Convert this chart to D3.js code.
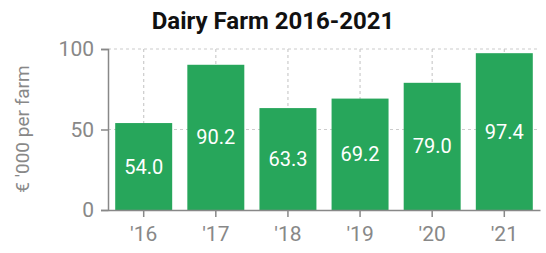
<!DOCTYPE html>
<html>
<head>
<meta charset="utf-8">
<script src="https://cdn.jsdelivr.net/npm/d3@7"></script>
<style>
	body { margin: 0; background: #fff; }
	text { font-family: Roboto, sans-serif; }
	.axis path, .axis line { stroke: #888; stroke-width: 1.5; }
	.axis text { fill: #888; font-size: 21px; }
	.grid line { stroke: #ccc; stroke-dasharray: 3,3; stroke-width: 1.2; }
</style>
</head>
<body>
<svg id="chart" width="546" height="253"></svg>
<script>
"use strict";

// Chart data
var years = ["'16", "'17", "'18", "'19", "'20", "'21"];
var income = [54.0, 90.2, 63.3, 69.2, 79.0, 97.4];
var yTicks = [0, 50, 100];

var svg = d3.select('#chart');
var W = 546, H = 253;
var m = { top: 49, right: 6, bottom: 43, left: 108 };

var x = d3.scaleBand().domain(years).range([m.left, W - m.right]).
	paddingInner(0.21).paddingOuter(0.1);
var y = d3.scaleLinear().domain([0, 100]).range([H - m.bottom, m.top]);

// Title
svg.append('text').attr('x', 273).attr('y', 29).attr('text-anchor', 'middle').
	style('font-size', '24px').style('font-weight', 'bold').style('fill', '#111').
	text('Dairy Farm 2016-2021');

// Y axis title
svg.append('text').attr('transform', 'translate(29, 129) rotate(-90)').
	attr('text-anchor', 'middle').style('font-size', '19px').style('fill', '#888').
	text("€ '000 per farm");

// Grid lines (dashed)
var grid = svg.append('g').attr('class', 'grid');
grid.selectAll('.hg').data(yTicks.filter(function(d) { return d > 0; })).enter().
	append('line').attr('x1', m.left).attr('x2', W - m.right).
	attr('y1', function(d) { return y(d); }).attr('y2', function(d) { return y(d); });
grid.selectAll('.vg').data(years).enter().append('line').
	attr('x1', function(d) { return x(d) + x.bandwidth()/2; }).
	attr('x2', function(d) { return x(d) + x.bandwidth()/2; }).
	attr('y1', y(100)).attr('y2', y(0));

// Bars
var bars = svg.append('g');
bars.selectAll('rect').data(income).enter().append('rect').
	attr('x', function(d, i) { return x(years[i]); }).
	attr('y', function(d) { return y(d); }).
	attr('width', x.bandwidth()).
	attr('height', function(d) { return y(0) - y(d); }).
	attr('fill', '#27a65b');

// Bar labels
bars.selectAll('text').data(income).enter().append('text').
	attr('x', function(d, i) { return x(years[i]) + x.bandwidth()/2; }).
	attr('y', function(d) { return (y(d) + y(0))/2; }).
	attr('dy', '0.35em').attr('text-anchor', 'middle').
	style('font-size', '20px').style('fill', '#fff').
	text(function(d) { return d.toFixed(1); });

// Axes
svg.append('g').attr('class', 'axis').attr('transform', 'translate(' + m.left + ',0)').
	call(d3.axisLeft(y).tickValues(yTicks).tickSize(7).tickPadding(7));
svg.append('g').attr('class', 'axis').attr('transform', 'translate(0,' + y(0) + ')').
	call(d3.axisBottom(x).tickSize(7).tickSizeOuter(0).tickPadding(9));
</script>
</body>
</html>
